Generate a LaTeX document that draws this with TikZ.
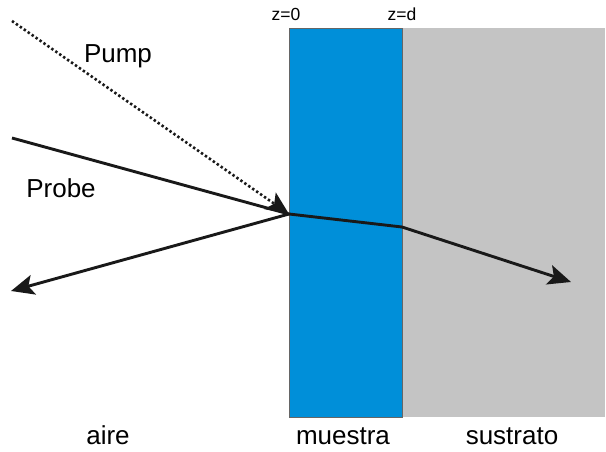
\documentclass[tikz,border=0pt]{standalone}
\usepackage{fontspec}
\setmainfont{Liberation Sans}
\usetikzlibrary{arrows.meta}
\definecolor{muestrablue}{RGB}{0,143,217}
\definecolor{sustratogray}{RGB}{196,196,196}

\begin{document}
\begin{tikzpicture}[x=1pt,y=-1pt,>={Stealth[length=23pt,width=20pt,inset=5pt]},
    beam/.style={line width=2.9pt, black!90},
    lbl/.style={anchor=base, inner sep=0pt, font=\fontsize{26}{30}\selectfont},
    zlbl/.style={anchor=base, inner sep=0pt, font=\fontsize{17.5}{20}\selectfont}]
  \useasboundingbox (0,0) rectangle (606,452);
  % Levels
  \def\TOP{28}
  \def\BOT{417}
  \def\ZZERO{289}
  \def\ZD{402}

  % --- Layers ---
  \fill[sustratogray] (\ZD,\TOP) rectangle (605,\BOT);
  \draw[fill=muestrablue, draw=black!60, line width=0.8pt]
    (\ZZERO,\TOP) rectangle (\ZD,\BOT);

  % --- Beam points ---
  \coordinate (pumpstart) at (12,21);
  \coordinate (probestart) at (12,138);
  \coordinate (hit) at (\ZZERO,214);
  \coordinate (exit) at (\ZD,227);
  \coordinate (transend) at (571,282);
  \coordinate (reflend) at (11,291);

  % Pump (dotted)
  \draw[->, line width=2.6pt, dash pattern=on 2.4pt off 2.4pt, black!90] (pumpstart) -- (hit);
  % Probe, reflected and transmitted
  \draw[beam] (probestart) -- (hit) -- (exit);
  \draw[beam, ->] (hit) -- (reflend);
  \draw[beam, ->] (exit) -- (transend);

  % Labels
  \node[lbl] (pump) at (118,63) {Pump};
  \node[lbl] (probe) at (61,197) {Probe};
  \node[lbl] (aire) at (108,444) {aire};
  \node[lbl] (muestra) at (343,444) {muestra};
  \node[lbl] (sustrato) at (512,444) {sustrato};
  \node[zlbl] (zzero) at (286,21) {z=0};
  \node[zlbl] (zd) at (402,21) {z=d};
\end{tikzpicture}
\end{document}
